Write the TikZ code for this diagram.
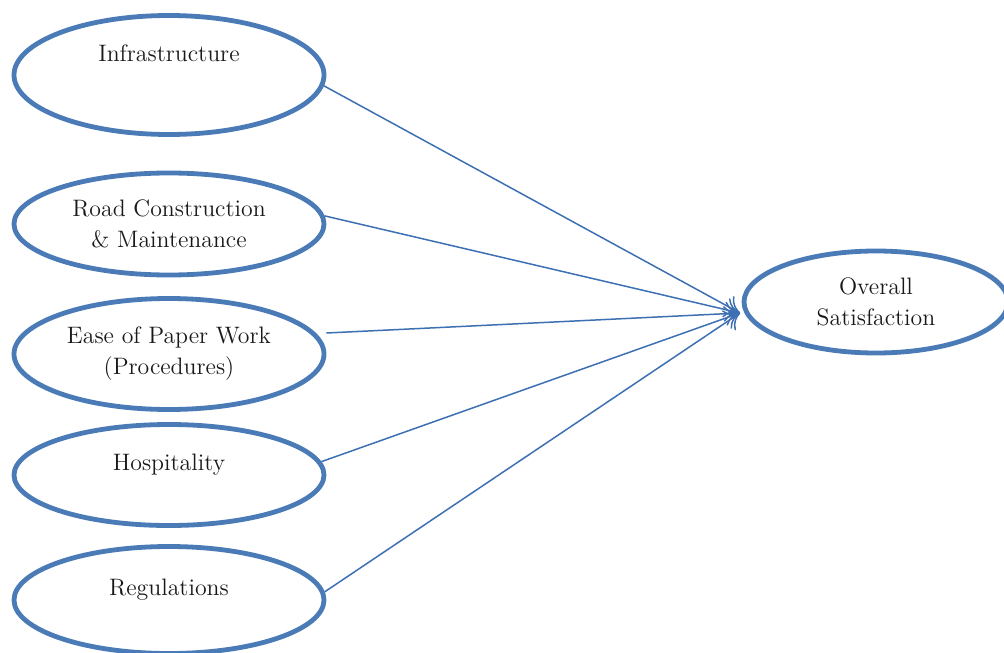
\documentclass[tikz,border=0pt]{standalone}
\usetikzlibrary{shapes.geometric, arrows.meta}
\definecolor{ovalblue}{RGB}{74,123,183}
\definecolor{linkblue}{RGB}{61,112,178}

\begin{document}
\begin{tikzpicture}[x=0.5pt, y=-0.5pt, >={To[length=7pt, width=12pt]}]
        \tikzstyle{factor}=[draw=ovalblue, ellipse, line width=2.4pt, inner sep=0pt, minimum width=155pt, align=center, text=black!90, font=\fontsize{11.9}{15.5}\selectfont];
        \tikzstyle{lowtext}=[text height=8pt, text depth=13pt];
        \useasboundingbox (0,0) rectangle (1004,652);
        \node[factor, minimum height=59.5pt, text height=8pt, text depth=21pt] (infra) at (169,75) {Infrastructure};
        \node[factor, minimum height=51pt] (road) at (169,224) {Road Construction\\\& Maintenance};
        \node[factor, minimum height=55.5pt] (paper) at (169,354) {Ease of Paper Work\\(Procedures)};
        \node[factor, minimum height=50.5pt, lowtext] (hosp) at (169,475) {Hospitality};
        \node[factor, minimum height=53.5pt, lowtext] (regul) at (169,600) {Regulations};
        \node[factor, minimum width=132pt, minimum height=51pt] (sat) at (876,302) {Overall\\Satisfaction};
        \coordinate (tip) at (740,313);

        \path[->, color=linkblue, line width=0.75pt]
        (infra.-4) edge (tip)
        (road.3) edge (tip)
        ([yshift=10.5pt]paper.east) edge (tip)
        (hosp.5) edge (tip)
        (regul.3) edge (tip);
      \end{tikzpicture}
\end{document}
